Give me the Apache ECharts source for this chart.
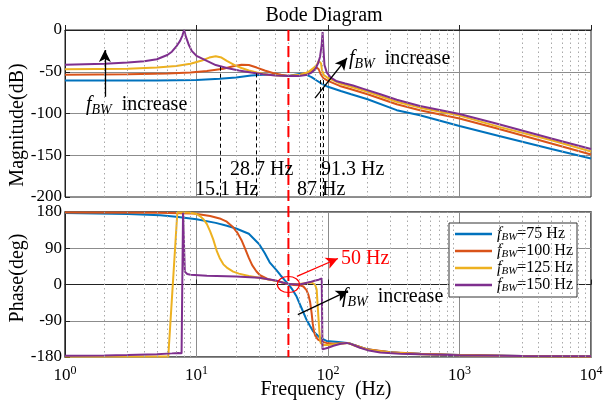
<!DOCTYPE html>
<html><head><meta charset="utf-8">
<script src="https://cdn.jsdelivr.net/npm/echarts@6/dist/echarts.min.js"></script>
<style>html,body{margin:0;padding:0;background:#fff}#c{width:607px;height:403px}</style>
</head><body><div id="c"></div>
<script>
// ---------- data ----------
const seriesNames = ['fBW=75 Hz', 'fBW=100 Hz', 'fBW=125 Hz', 'fBW=150 Hz'];
const colors = ['#0072BD', '#D95319', '#EDB120', '#7E2F8E'];

const magTicks = [-200, -150, -100, -50, 0];
const phaseTicks = [-180, -90, 0, 90, 180];
const freqTicks = [1, 10, 100, 1000, 10000];
const minorFreqs = [2,3,4,5,6,7,8,9, 20,30,40,50,60,70,80,90, 200,300,400,500,600,700,800,900, 2000,3000,4000,5000,6000,7000,8000,9000];

// magnitude (dB)
const magF75  = [1, 5, 10, 15, 20, 26, 32, 40, 50, 56, 62, 68, 75, 82, 90, 100, 125, 150, 200, 333, 500, 1000, 2000, 5000, 10000];
const mag75   = [-60.5, -60.5, -60, -58.5, -57, -54.5, -53.5, -53.5, -55, -53.5, -52.5, -53.5, -56.5, -60.5, -64.5, -68, -73, -77, -83, -96, -102, -115, -127, -142.5, -154];
const magF100 = [1, 3, 6, 9, 12, 16, 19, 22, 25, 28.7, 33, 38, 44, 50, 60, 70, 77, 82, 85, 88, 92, 100, 123, 150, 200, 333, 500, 1000, 2000, 5000, 10000];
const mag100  = [-53.5, -53, -52, -51, -49, -46.5, -43.5, -41.5, -42, -45, -48.5, -51.5, -53.5, -55, -54, -51, -48, -45, -47, -53, -57.5, -61, -67, -71, -77, -89, -96, -106, -118.5, -136, -149];
const magF125 = [1, 3, 5, 7, 9, 11, 12.5, 14, 15.5, 17, 19.5, 22, 25, 28.7, 35, 42, 50, 60, 70, 77, 82, 85, 87, 88.5, 90, 93, 100, 123, 150, 200, 333, 500, 1000, 2000, 5000, 10000];
const mag125  = [-47, -46.5, -45, -43, -40.5, -36.5, -33, -31.5, -33, -37, -42, -45.5, -48.5, -51, -53.5, -54.5, -55, -54, -51, -46, -42, -37, -35, -40, -48, -54, -57.5, -64, -68, -74, -86, -93, -102.5, -116, -132, -145.5];
const magF150 = [1, 2, 3, 4, 5, 6, 6.5, 7, 7.5, 7.8, 8.05, 8.3, 8.7, 9.2, 10, 12, 14, 17, 21, 26, 32, 40, 50, 60, 68, 75, 80, 84, 87, 89.5, 91, 92, 94, 98, 105, 115, 135, 155, 186, 250, 333, 500, 1000, 1900, 5000, 10000];
const mag150  = [-41.5, -40.5, -39, -37.5, -35, -30, -26, -20, -13, -7, 0, -8, -17, -25, -31, -37, -42, -45.5, -48.5, -51, -53, -54.5, -55, -55, -54, -51, -47, -40, -32, -18, -2.5, -18, -42, -51, -57, -61, -64, -66.5, -70.5, -77, -83.5, -91, -100.5, -112, -130, -142.5];

// phase (deg)
const phF75  = [1, 3, 5.3, 7, 10, 14, 17, 20, 25, 30, 33, 36, 40.7, 43.5, 47, 50, 54, 57.7, 63, 68.6, 73, 77, 87, 97.5, 120, 145, 175, 200, 250, 354, 500, 1000, 3000, 10000];
const ph75   = [177.5, 175, 172, 168, 162, 153, 146, 139, 126, 100, 78, 55, 35, 23, 10, 1, -14, -30, -59, -87, -103, -116, -132, -140, -143, -146, -155, -161, -166, -170, -172, -175, -177.5, -178.5];
const phF100 = [1, 5, 9.5, 12.7, 15, 17, 19, 20.5, 22, 23.5, 25, 26.5, 28.5, 30.4, 35, 40.7, 45, 50, 55, 61, 65, 68.6, 71, 73, 75, 76.5, 78, 80, 84, 90, 97.5, 110, 130, 142, 160, 200, 300, 500, 1000, 3000, 10000];
const ph100  = [179, 178, 176, 170, 164, 156, 142, 128, 110, 88, 66, 48, 33, 23, 13, 9, 5, 1, -1, -2, -5, -14, -26, -42, -70, -96, -115, -127, -137, -142, -145, -147, -146, -145, -151, -161, -168, -172, -175, -177.5, -178.5];
const phF125 = [1, 3, 6.1, 7.15, 8, 9, 10, 10.6, 11.3, 12, 12.7, 13.4, 14.3, 15, 16, 17, 19, 21, 25, 30, 40, 50, 60, 70, 75, 79.6, 82, 83, 84.5, 86, 87, 88, 92, 100, 120, 142, 160, 200, 300, 500, 1000, 3000, 10000];
const ph125  = [-179, -179, -179, 179, 179, 178, 175, 170, 162, 150, 132, 112, 82, 66, 50, 42, 32, 27, 21, 17, 9, 1, 1, 4, 5, 0, -12, -40, -80, -116, -135, -145, -150, -150, -147, -145, -152, -162, -169, -173, -175.5, -178, -179];
const phF150 = [1, 2, 3, 5, 6.5, 7.3, 7.7, 7.85, 7.9, 8.0, 8.15, 8.5, 9, 12, 20, 30, 40, 50, 61, 73, 80, 85, 89.6, 90.8, 100, 110, 125, 139, 150, 175, 200, 250, 354, 1000, 3000, 10000];
const ph150  = [-177, -176, -175, -173, -171, -170, -171, -172, 178, 178, 32, 26, 24, 22, 20, 17, 10, 1, 0, 6, 10, 12, 15, -161, -157, -152, -147, -145, -148, -157, -163, -169, -172, -175.5, -177.5, -178];

// annotations (data coordinates)
const markFreqs = [15.1, 28.7, 87, 91.3];
const markTopDb = [-44, -52, -60, -60];
const markLabels = ['15.1 Hz', '28.7 Hz', '87 Hz', '91.3 Hz'];
const gridFreq = 50;

// ---------- chart ----------
const FONT = "'Liberation Serif','Times New Roman',serif";
const chart = echarts.init(document.getElementById('c'), null, {renderer: 'canvas'});

const pairs = (fs, vs) => fs.map((f, i) => [f, vs[i]]);
const magData = [pairs(magF75, mag75), pairs(magF100, mag100), pairs(magF125, mag125), pairs(magF150, mag150)];
const phData = [pairs(phF75, ph75), pairs(phF100, ph100), pairs(phF125, ph125), pairs(phF150, ph150)];

const gridLineColor = '#8c8c8c';
function xAxisCfg(gi, labels) {
  return {
    type: 'log', logBase: 10, gridIndex: gi,
    min: freqTicks[0], max: freqTicks[freqTicks.length - 1],
    axisLine: {show: true, lineStyle: {color: '#222', width: 1}},
    axisTick: {show: true, inside: true, length: 5, lineStyle: {color: '#222'}},
    splitLine: {show: true, lineStyle: {color: gridLineColor, width: 1}},
    axisLabel: labels ? {
      show: true, margin: 8, color: '#000',
      formatter: v => '{b|10}{e|' + Math.round(Math.log10(v)) + '}',
      rich: {
        b: {fontFamily: FONT, fontSize: 17, color: '#000'},
        e: {fontFamily: FONT, fontSize: 12, color: '#000', padding: [0, 0, 9, 0]}
      }
    } : {show: false}
  };
}
function yAxisCfg(gi, ticks) {
  return {
    type: 'value', gridIndex: gi,
    min: ticks[0], max: ticks[ticks.length - 1], interval: ticks[1] - ticks[0],
    axisLine: {show: true, lineStyle: {color: '#222', width: 1}},
    axisTick: {show: true, inside: true, length: 5, lineStyle: {color: '#222'}},
    splitLine: {show: true, lineStyle: {color: gridLineColor, width: 1}},
    axisLabel: {show: true, margin: 3, color: '#000', fontFamily: FONT, fontSize: 17}
  };
}

const minorLines = minorFreqs.map(f => ({xAxis: f}));
const dashLines = markFreqs.map((f, i) => [{coord: [f, markTopDb[i]]}, {coord: [f, magTicks[0]]}]);

const series = [];
series.push({
  type: 'line', xAxisIndex: 0, yAxisIndex: 0, data: [], z: 1, silent: true,
  markLine: {silent: true, symbol: 'none', label: {show: false}, animation: false,
    lineStyle: {color: '#a8a8a8', type: [1.5, 3], width: 1},
    data: minorLines}
});
series.push({
  type: 'line', xAxisIndex: 1, yAxisIndex: 1, data: [], z: 1, silent: true,
  markLine: {silent: true, symbol: 'none', label: {show: false}, animation: false,
    lineStyle: {color: '#a8a8a8', type: [1.5, 3], width: 1},
    data: minorLines}
});
for (let i = 0; i < 4; i++) {
  series.push({
    name: seriesNames[i], type: 'line', xAxisIndex: 0, yAxisIndex: 0,
    data: magData[i], showSymbol: false, symbol: 'none', smooth: false, z: 3,
    lineStyle: {color: colors[i], width: 2}, itemStyle: {color: colors[i]}
  });
}
for (let i = 0; i < 4; i++) {
  series.push({
    name: seriesNames[i], type: 'line', xAxisIndex: 1, yAxisIndex: 1,
    data: phData[i], showSymbol: false, symbol: 'none', smooth: false, z: 3,
    lineStyle: {color: colors[i], width: 2}, itemStyle: {color: colors[i]}
  });
}
series.push({
  type: 'line', xAxisIndex: 0, yAxisIndex: 0, data: [], z: 4, silent: true,
  markLine: {silent: true, symbol: 'none', label: {show: false}, animation: false,
    lineStyle: {color: '#000', type: [4, 3], width: 1}, data: dashLines}
});
series.push({
  type: 'line', xAxisIndex: 0, yAxisIndex: 0, data: [], z: 5, silent: true,
  markLine: {silent: true, symbol: ['none', 'arrow'], symbolSize: [9, 12], label: {show: false}, animation: false,
    lineStyle: {color: '#000', type: 'solid', width: 1.3},
    data: [
      [{coord: [2.01, -80]}, {coord: [2.01, -24]}],
      [{coord: [79.6, -81.5]}, {coord: [139.5, -33.5]}]
    ]}
});
series.push({
  type: 'line', xAxisIndex: 1, yAxisIndex: 1, data: [], z: 5, silent: true,
  markLine: {silent: true, symbol: ['none', 'arrow'], symbolSize: [9, 12], label: {show: false}, animation: false,
    lineStyle: {color: '#000', type: 'solid', width: 1.3},
    data: [
      [{coord: [59, -75]}, {coord: [142, -16]}],
      [{coord: [58, 20], lineStyle: {color: '#ff0000'}, itemStyle: {color: '#ff0000'}}, {coord: [119, 64.5], itemStyle: {color: '#ff0000'}}]
    ]}
});

chart.setOption({
  animation: false,
  backgroundColor: '#fff',
  textStyle: {fontFamily: FONT},
  grid: [
    {left: 65, top: 30, width: 526, height: 167, show: true, borderColor: '#222', borderWidth: 1, backgroundColor: 'transparent'},
    {left: 65, top: 212, width: 526, height: 145, show: true, borderColor: '#333', borderWidth: 1.5, backgroundColor: 'transparent'}
  ],
  xAxis: [xAxisCfg(0, false), xAxisCfg(1, true)],
  yAxis: [yAxisCfg(0, magTicks), yAxisCfg(1, phaseTicks)],
  legend: {
    data: seriesNames, orient: 'vertical', left: 449, top: 223,
    padding: [3, 4, 3, 6], itemGap: 0, itemWidth: 37, itemHeight: 2.5, icon: 'rect',
    backgroundColor: '#fff', borderColor: '#333', borderWidth: 1, borderRadius: 0,
    selectedMode: false,
    formatter: name => '{i|f}{s|BW}{n|' + name.slice(3) + '}',
    textStyle: {
      fontFamily: FONT, fontSize: 16, color: '#000',
      rich: {
        i: {fontFamily: FONT, fontStyle: 'italic', fontSize: 16, lineHeight: 18, color: '#000'},
        s: {fontFamily: FONT, fontStyle: 'italic', fontSize: 11, lineHeight: 11, verticalAlign: 'bottom', color: '#000'},
        n: {fontFamily: FONT, fontSize: 16, lineHeight: 18, color: '#000'}
      }
    }
  },
  series: series
});

// ---------- graphic overlays ----------
const richF = (size) => ({
  i: {fontFamily: FONT, fontStyle: 'italic', fontSize: size, lineHeight: size + 4, fill: '#000'},
  s: {fontFamily: FONT, fontStyle: 'italic', fontSize: Math.round(size * 0.68), lineHeight: Math.round(size * 0.68), verticalAlign: 'bottom', fill: '#000'},
  n: {fontFamily: FONT, fontSize: size, lineHeight: size + 4, fill: '#000'}
});
const p0 = v => chart.convertToPixel({gridIndex: 0}, v);
const p1 = v => chart.convertToPixel({gridIndex: 1}, v);
const redTop = p0([gridFreq, magTicks[magTicks.length - 1]]);
const redBot = p1([gridFreq, phaseTicks[0]]);
const ell = p1([gridFreq, 0]);

const textPos = [[195, 190], [230, 170], [297, 190], [321, 170]];
const graphics = [
  {type: 'line', z: 100, shape: {x1: redTop[0], y1: redTop[1], x2: redBot[0], y2: redBot[1]},
   style: {stroke: '#ff0000', lineWidth: 2, lineDash: [11, 5]}},
  {type: 'ellipse', z: 100, shape: {cx: ell[0], cy: ell[1], rx: 11, ry: 8},
   style: {stroke: '#ff0000', lineWidth: 1.2, fill: 'none'}},
  {type: 'text', z: 100, x: 324, y: 16, style: {text: 'Bode Diagram', font: '20px ' + FONT, fill: '#000', textAlign: 'center', textVerticalAlign: 'middle'}},
  {type: 'text', z: 100, x: 326, y: 390, style: {text: 'Frequency  (Hz)', font: '20px ' + FONT, fill: '#000', textAlign: 'center', textVerticalAlign: 'middle'}},
  {type: 'text', z: 100, x: 18, y: 125, rotation: Math.PI / 2, style: {text: 'Magnitude(dB)', font: '20px ' + FONT, fill: '#000', textAlign: 'center', textVerticalAlign: 'middle'}},
  {type: 'text', z: 100, x: 18, y: 278, rotation: Math.PI / 2, style: {text: 'Phase(deg)', font: '20px ' + FONT, fill: '#000', textAlign: 'center', textVerticalAlign: 'middle'}},
  {type: 'text', z: 100, x: 341, y: 259, style: {text: '50 Hz', font: '20px ' + FONT, fill: '#ff0000', textAlign: 'left', textVerticalAlign: 'middle'}},
  {type: 'text', z: 100, x: 86, y: 105, style: {text: '{i|f}{s|BW}{n|  increase}', rich: richF(20), textAlign: 'left', textVerticalAlign: 'middle'}},
  {type: 'text', z: 100, x: 349, y: 59, style: {text: '{i|f}{s|BW}{n|  increase}', rich: richF(20), textAlign: 'left', textVerticalAlign: 'middle'}},
  {type: 'text', z: 100, x: 342, y: 297, style: {text: '{i|f}{s|BW}{n|  increase}', rich: richF(20), textAlign: 'left', textVerticalAlign: 'middle'}}
];
markLabels.forEach((t, i) => {
  graphics.push({type: 'text', z: 100, x: textPos[i][0], y: textPos[i][1],
    style: {text: t, font: '20px ' + FONT, fill: '#000', textAlign: 'left', textVerticalAlign: 'middle'}});
});
chart.setOption({graphic: graphics});
</script>
</body></html>
